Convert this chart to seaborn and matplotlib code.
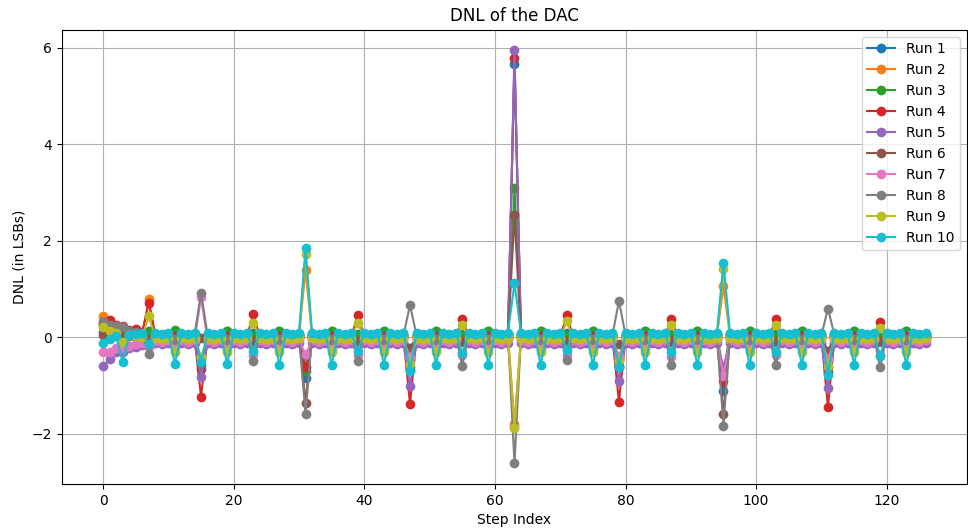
import numpy as np
import pandas as pd
import matplotlib
matplotlib.use("Agg")
import matplotlib.pyplot as plt
import seaborn as sns

# DNL per step (127 steps, 16 values per row)
run1 = [
    0.10, 0.15, 0.10, 0.14, 0.07, 0.03, 0.06, 0.12, 0.05, 0.02, 0.05, 0.13, 0.05, 0.02, 0.06, -0.66,
    0.05, 0.02, 0.05, 0.12, 0.06, 0.02, 0.05, 0.08, 0.05, 0.03, 0.05, 0.12, 0.04, 0.02, 0.05, -0.84,
    0.06, 0.03, 0.05, 0.12, 0.05, 0.02, 0.05, 0.07, 0.05, 0.02, 0.06, 0.13, 0.05, 0.02, 0.05, -0.68,
    0.05, 0.02, 0.05, 0.12, 0.05, 0.03, 0.05, 0.06, 0.05, 0.02, 0.05, 0.12, 0.05, 0.02, 0.06, 5.65,
    0.05, 0.02, 0.05, 0.12, 0.06, 0.02, 0.05, 0.08, 0.05, 0.02, 0.05, 0.12, 0.05, 0.03, 0.05, -0.62,
    0.05, 0.02, 0.05, 0.13, 0.05, 0.02, 0.06, 0.06, 0.05, 0.02, 0.05, 0.12, 0.05, 0.02, 0.05, -1.12,
    0.06, 0.02, 0.05, 0.12, 0.05, 0.03, 0.05, 0.06, 0.05, 0.02, 0.05, 0.12, 0.05, 0.02, 0.05, -0.72,
    0.05, 0.02, 0.05, 0.12, 0.05, 0.02, 0.05, 0.05, 0.05, 0.03, 0.05, 0.12, 0.05, 0.02, 0.05,
]
run2 = [
    0.43, 0.30, 0.22, 0.18, 0.12, 0.08, 0.06, 0.78, 0.04, 0.01, 0.03, 0.06, 0.03, 0.00, 0.03, -0.45,
    0.03, 0.00, 0.03, 0.05, 0.03, 0.01, 0.03, 0.02, 0.03, 0.00, 0.03, 0.05, 0.03, 0.00, 0.03, 1.39,
    0.03, 0.01, 0.03, 0.05, 0.03, 0.00, 0.03, 0.03, 0.03, 0.00, 0.03, 0.05, 0.03, 0.01, 0.03, -0.48,
    0.03, 0.00, 0.03, 0.05, 0.03, 0.00, 0.03, 0.02, 0.03, 0.01, 0.03, 0.05, 0.03, 0.00, 0.03, -1.80,
    0.03, 0.00, 0.03, 0.05, 0.03, 0.01, 0.03, 0.02, 0.03, 0.00, 0.03, 0.05, 0.03, 0.00, 0.03, -0.46,
    0.03, 0.00, 0.03, 0.06, 0.03, 0.00, 0.03, 0.02, 0.03, 0.00, 0.03, 0.05, 0.03, 0.01, 0.03, 1.06,
    0.03, 0.00, 0.03, 0.05, 0.03, 0.00, 0.03, 0.03, 0.03, 0.00, 0.03, 0.05, 0.03, 0.00, 0.03, -0.50,
    0.03, 0.00, 0.03, 0.05, 0.03, 0.01, 0.03, 0.02, 0.03, 0.00, 0.03, 0.05, 0.03, 0.00, 0.03,
]
run3 = [
    0.25, 0.18, 0.14, 0.16, 0.10, 0.07, 0.07, 0.10, 0.06, 0.04, 0.06, 0.14, 0.06, 0.04, 0.06, -0.58,
    0.06, 0.04, 0.06, 0.13, 0.06, 0.04, 0.06, 0.04, 0.06, 0.04, 0.06, 0.13, 0.06, 0.04, 0.06, -0.70,
    0.06, 0.04, 0.06, 0.13, 0.06, 0.04, 0.06, 0.04, 0.06, 0.04, 0.06, 0.13, 0.06, 0.04, 0.06, -0.62,
    0.06, 0.04, 0.06, 0.13, 0.06, 0.04, 0.06, 0.04, 0.06, 0.04, 0.06, 0.13, 0.06, 0.04, 0.06, 3.08,
    0.06, 0.04, 0.06, 0.13, 0.06, 0.04, 0.06, 0.04, 0.06, 0.04, 0.06, 0.13, 0.06, 0.04, 0.06, -0.60,
    0.06, 0.04, 0.06, 0.13, 0.06, 0.04, 0.06, 0.04, 0.06, 0.04, 0.06, 0.13, 0.06, 0.04, 0.06, -0.75,
    0.06, 0.04, 0.06, 0.13, 0.06, 0.04, 0.06, 0.04, 0.06, 0.04, 0.06, 0.13, 0.06, 0.04, 0.06, -0.62,
    0.06, 0.04, 0.06, 0.13, 0.06, 0.04, 0.06, 0.04, 0.06, 0.04, 0.06, 0.13, 0.06, 0.04, 0.06,
]
run4 = [
    0.30, 0.36, 0.26, 0.22, 0.15, 0.17, 0.10, 0.71, 0.02, -0.01, 0.01, 0.03, 0.00, -0.02, 0.00, -1.24,
    0.00, -0.02, 0.00, 0.02, 0.00, -0.02, 0.00, 0.47, 0.00, -0.02, 0.00, 0.02, 0.00, -0.02, 0.00, -0.62,
    0.00, -0.02, 0.00, 0.02, 0.00, -0.02, 0.00, 0.45, 0.00, -0.02, 0.00, 0.02, 0.00, -0.02, 0.00, -1.39,
    0.00, -0.02, 0.00, 0.02, 0.00, -0.02, 0.00, 0.37, 0.00, -0.02, 0.00, 0.02, 0.00, -0.02, 0.00, 5.78,
    0.00, -0.02, 0.00, 0.02, 0.00, -0.02, 0.00, 0.45, 0.00, -0.02, 0.00, 0.02, 0.00, -0.02, 0.00, -1.34,
    0.00, -0.02, 0.00, 0.02, 0.00, -0.02, 0.00, 0.37, 0.00, -0.02, 0.00, 0.02, 0.00, -0.02, 0.00, -0.92,
    0.00, -0.02, 0.00, 0.02, 0.00, -0.02, 0.00, 0.37, 0.00, -0.02, 0.00, 0.02, 0.00, -0.02, 0.00, -1.45,
    0.00, -0.02, 0.00, 0.02, 0.00, -0.02, 0.00, 0.31, 0.00, -0.02, 0.00, 0.02, 0.00, -0.02, 0.00,
]
run5 = [
    -0.61, -0.45, -0.32, -0.30, -0.22, -0.20, -0.16, -0.12, -0.13, -0.14, -0.12, -0.18, -0.12, -0.14, -0.12, -0.83,
    -0.12, -0.14, -0.12, -0.18, -0.12, -0.14, -0.12, -0.10, -0.12, -0.14, -0.12, -0.18, -0.12, -0.14, -0.12, -0.38,
    -0.12, -0.14, -0.12, -0.18, -0.12, -0.14, -0.12, -0.10, -0.12, -0.14, -0.12, -0.18, -0.12, -0.14, -0.12, -1.01,
    -0.12, -0.14, -0.12, -0.18, -0.12, -0.14, -0.12, -0.10, -0.12, -0.14, -0.12, -0.18, -0.12, -0.14, -0.12, 5.94,
    -0.12, -0.14, -0.12, -0.18, -0.12, -0.14, -0.12, -0.10, -0.12, -0.14, -0.12, -0.18, -0.12, -0.14, -0.12, -0.91,
    -0.12, -0.14, -0.12, -0.18, -0.12, -0.14, -0.12, -0.10, -0.12, -0.14, -0.12, -0.18, -0.12, -0.14, -0.12, -0.62,
    -0.12, -0.14, -0.12, -0.18, -0.12, -0.14, -0.12, -0.10, -0.12, -0.14, -0.12, -0.18, -0.12, -0.14, -0.12, -1.06,
    -0.12, -0.14, -0.12, -0.18, -0.12, -0.14, -0.12, -0.10, -0.12, -0.14, -0.12, -0.18, -0.12, -0.14, -0.12,
]
run6 = [
    0.05, 0.06, 0.04, 0.03, 0.02, 0.01, 0.01, -0.06, 0.00, -0.02, 0.00, -0.04, 0.00, -0.02, 0.00, -0.03,
    0.00, -0.02, 0.00, -0.04, 0.00, -0.02, 0.00, -0.08, 0.00, -0.02, 0.00, -0.04, 0.00, -0.02, 0.00, -1.36,
    0.00, -0.02, 0.00, -0.04, 0.00, -0.02, 0.00, -0.08, 0.00, -0.02, 0.00, -0.04, 0.00, -0.02, 0.00, -0.22,
    0.00, -0.02, 0.00, -0.04, 0.00, -0.02, 0.00, -0.08, 0.00, -0.02, 0.00, -0.04, 0.00, -0.02, 0.00, 2.52,
    0.00, -0.02, 0.00, -0.04, 0.00, -0.02, 0.00, -0.08, 0.00, -0.02, 0.00, -0.04, 0.00, -0.02, 0.00, -0.15,
    0.00, -0.02, 0.00, -0.04, 0.00, -0.02, 0.00, -0.08, 0.00, -0.02, 0.00, -0.04, 0.00, -0.02, 0.00, -1.59,
    0.00, -0.02, 0.00, -0.04, 0.00, -0.02, 0.00, -0.08, 0.00, -0.02, 0.00, -0.04, 0.00, -0.02, 0.00, -0.29,
    0.00, -0.02, 0.00, -0.04, 0.00, -0.02, 0.00, -0.08, 0.00, -0.02, 0.00, -0.04, 0.00, -0.02, 0.00,
]
run7 = [
    -0.32, -0.30, -0.22, -0.22, -0.18, -0.15, -0.12, -0.20, -0.08, -0.10, -0.07, -0.25, -0.07, -0.10, -0.07, 0.82,
    -0.07, -0.10, -0.07, -0.25, -0.07, -0.10, -0.07, -0.38, -0.07, -0.10, -0.07, -0.25, -0.07, -0.10, -0.07, -0.36,
    -0.07, -0.10, -0.07, -0.25, -0.07, -0.10, -0.07, -0.38, -0.07, -0.10, -0.07, -0.25, -0.07, -0.10, -0.07, -0.42,
    -0.07, -0.10, -0.07, -0.25, -0.07, -0.10, -0.07, -0.38, -0.07, -0.10, -0.07, -0.25, -0.07, -0.10, -0.07, -1.86,
    -0.07, -0.10, -0.07, -0.25, -0.07, -0.10, -0.07, -0.38, -0.07, -0.10, -0.07, -0.25, -0.07, -0.10, -0.07, -0.40,
    -0.07, -0.10, -0.07, -0.25, -0.07, -0.10, -0.07, -0.42, -0.07, -0.10, -0.07, -0.25, -0.07, -0.10, -0.07, -0.81,
    -0.07, -0.10, -0.07, -0.25, -0.07, -0.10, -0.07, -0.38, -0.07, -0.10, -0.07, -0.25, -0.07, -0.10, -0.07, -0.45,
    -0.07, -0.10, -0.07, -0.25, -0.07, -0.10, -0.07, -0.38, -0.07, -0.10, -0.07, -0.25, -0.07, -0.10, -0.07,
]
run8 = [
    0.33, 0.25, 0.22, 0.20, 0.13, 0.10, 0.07, -0.36, 0.04, 0.02, 0.04, -0.05, 0.04, 0.02, 0.04, 0.92,
    0.04, 0.02, 0.04, -0.05, 0.04, 0.02, 0.04, -0.50, 0.04, 0.02, 0.04, -0.05, 0.04, 0.02, 0.04, -1.60,
    0.04, 0.02, 0.04, -0.05, 0.04, 0.02, 0.04, -0.50, 0.04, 0.02, 0.04, -0.05, 0.04, 0.02, 0.04, 0.66,
    0.04, 0.02, 0.04, -0.05, 0.04, 0.02, 0.04, -0.59, 0.04, 0.02, 0.04, -0.05, 0.04, 0.02, 0.04, -2.62,
    0.04, 0.02, 0.04, -0.05, 0.04, 0.02, 0.04, -0.48, 0.04, 0.02, 0.04, -0.05, 0.04, 0.02, 0.04, 0.75,
    0.04, 0.02, 0.04, -0.05, 0.04, 0.02, 0.04, -0.57, 0.04, 0.02, 0.04, -0.05, 0.04, 0.02, 0.04, -1.84,
    0.04, 0.02, 0.04, -0.05, 0.04, 0.02, 0.04, -0.57, 0.04, 0.02, 0.04, -0.05, 0.04, 0.02, 0.04, 0.59,
    0.04, 0.02, 0.04, -0.05, 0.04, 0.02, 0.04, -0.63, 0.04, 0.02, 0.04, -0.05, 0.04, 0.02, 0.04,
]
run9 = [
    0.20, 0.12, 0.08, -0.10, 0.04, 0.02, 0.00, 0.43, -0.02, -0.05, -0.02, -0.30, -0.02, -0.05, -0.02, -0.42,
    -0.02, -0.05, -0.02, -0.30, -0.02, -0.05, -0.02, 0.30, -0.02, -0.05, -0.02, -0.30, -0.02, -0.05, -0.02, 1.72,
    -0.02, -0.05, -0.02, -0.30, -0.02, -0.05, -0.02, 0.30, -0.02, -0.05, -0.02, -0.30, -0.02, -0.05, -0.02, -0.55,
    -0.02, -0.05, -0.02, -0.30, -0.02, -0.05, -0.02, 0.26, -0.02, -0.05, -0.02, -0.30, -0.02, -0.05, -0.02, -1.88,
    -0.02, -0.05, -0.02, -0.30, -0.02, -0.05, -0.02, 0.33, -0.02, -0.05, -0.02, -0.30, -0.02, -0.05, -0.02, -0.50,
    -0.02, -0.05, -0.02, -0.30, -0.02, -0.05, -0.02, 0.26, -0.02, -0.05, -0.02, -0.30, -0.02, -0.05, -0.02, 1.41,
    -0.02, -0.05, -0.02, -0.30, -0.02, -0.05, -0.02, 0.26, -0.02, -0.05, -0.02, -0.30, -0.02, -0.05, -0.02, -0.60,
    -0.02, -0.05, -0.02, -0.30, -0.02, -0.05, -0.02, 0.19, -0.02, -0.05, -0.02, -0.30, -0.02, -0.05, -0.02,
]
run10 = [
    -0.12, -0.05, 0.02, -0.52, 0.05, 0.06, 0.08, -0.15, 0.09, 0.07, 0.09, -0.56, 0.09, 0.07, 0.09, -0.52,
    0.09, 0.07, 0.09, -0.56, 0.09, 0.07, 0.09, -0.28, 0.09, 0.07, 0.09, -0.58, 0.09, 0.07, 0.09, 1.85,
    0.09, 0.07, 0.09, -0.57, 0.09, 0.07, 0.09, -0.28, 0.09, 0.07, 0.09, -0.57, 0.09, 0.07, 0.09, -0.70,
    0.09, 0.07, 0.09, -0.57, 0.09, 0.07, 0.09, -0.34, 0.09, 0.07, 0.09, -0.57, 0.09, 0.07, 0.09, 1.12,
    0.09, 0.07, 0.09, -0.57, 0.09, 0.07, 0.09, -0.26, 0.09, 0.07, 0.09, -0.57, 0.09, 0.07, 0.09, -0.63,
    0.09, 0.07, 0.09, -0.57, 0.09, 0.07, 0.09, -0.32, 0.09, 0.07, 0.09, -0.58, 0.09, 0.07, 0.09, 1.54,
    0.09, 0.07, 0.09, -0.57, 0.09, 0.07, 0.09, -0.31, 0.09, 0.07, 0.09, -0.57, 0.09, 0.07, 0.09, -0.79,
    0.09, 0.07, 0.09, -0.57, 0.09, 0.07, 0.09, -0.39, 0.09, 0.07, 0.09, -0.58, 0.09, 0.07, 0.09,
]

runs = [run1, run2, run3, run4, run5, run6, run7, run8, run9, run10]
run_names = ["Run %d" % (i + 1) for i in range(len(runs))]

rows = []
for name, vals in zip(run_names, runs):
    assert len(vals) == 127, name
    for step, v in enumerate(vals):
        rows.append((name, step, v))
df = pd.DataFrame(rows, columns=["Run", "Step", "DNL"])

fig, ax = plt.subplots(figsize=(9.68, 5.32), dpi=100)
sns.lineplot(data=df, x="Step", y="DNL", hue="Run", hue_order=run_names,
             palette="tab10", marker="o", markersize=7, markeredgewidth=0,
             linewidth=1.5, errorbar=None, ax=ax)

ax.set_title("DNL of the DAC")
ax.set_xlabel("Step Index")
ax.set_ylabel("DNL (in LSBs)")
ax.grid(True)
sns.move_legend(ax, "upper right", title=None)

fig.subplots_adjust(left=0.064, right=0.999, bottom=0.09, top=0.944)
fig.savefig("out.png", dpi=100)
